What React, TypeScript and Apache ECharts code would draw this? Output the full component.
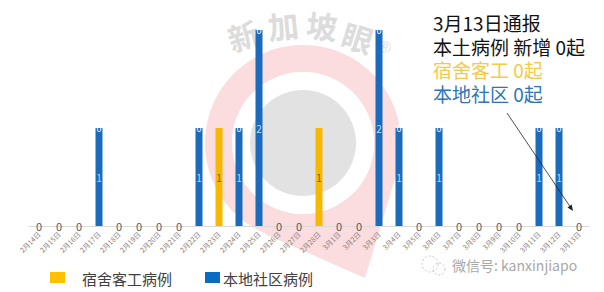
import React, { useEffect, useRef } from "react";
import * as echarts from "echarts";

const categories = [
  "2月14日", "2月15日", "2月16日", "2月17日", "2月18日", "2月19日", "2月20日",
  "2月21日", "2月22日", "2月23日", "2月24日", "2月25日", "2月26日", "2月27日",
  "2月28日", "3月1日", "3月2日", "3月3日", "3月4日", "3月5日", "3月6日",
  "3月7日", "3月8日", "3月9日", "3月10日", "3月11日", "3月12日", "3月13日",
];
const communityCases = [0, 0, 0, 1, 0, 0, 0, 0, 1, 0, 1, 2, 0, 0, 0, 0, 0, 2, 1, 0, 1, 0, 0, 0, 0, 1, 1, 0];
const dormitoryCases = [0, 0, 0, 0, 0, 0, 0, 0, 0, 1, 0, 0, 0, 0, 1, 0, 0, 0, 0, 0, 0, 0, 0, 0, 0, 0, 0, 0];
const seriesNames = ["宿舍客工病例", "本地社区病例"];
const noteLines = ["3月13日通报", "本土病例 新增 0起", "宿舍客工 0起", "本地社区 0起"];

const FONT = '"Noto Sans CJK SC", "Microsoft YaHei", sans-serif';
const BLUE = "#1a6bbc";
const YELLOW = "#F8B800";

export default function App() {
  const ref = useRef<HTMLDivElement>(null);
  useEffect(() => {
    if (!ref.current) return;
    const chart = echarts.init(ref.current, null, { renderer: "svg" });

    const yellowData = dormitoryCases.map((v, i) => {
      const onBlue = v === 0 && communityCases[i] > 0;
      return {
        value: v,
        label: v > 0
          ? { color: "#7a5a00", fontSize: 10 }
          : onBlue
          ? { color: "#ffffff", fontSize: 9 }
          : { color: "#595959", fontSize: 11 },
      };
    });

    const wmChars = [
      { t: "新", x: 243, y: 35, r: 0.3 },
      { t: "加", x: 283, y: 25, r: 0.1 },
      { t: "坡", x: 322, y: 25, r: -0.1 },
      { t: "眼", x: 358, y: 37, r: -0.3 },
    ];

    const option: any = {
      animation: false,
      textStyle: { fontFamily: FONT },
      grid: { left: 29, right: 15, top: 30, bottom: 66 },
      xAxis: {
        type: "category",
        data: categories,
        axisLine: { lineStyle: { color: "#d9d9d9" } },
        axisTick: { show: false },
        axisLabel: { interval: 0, rotate: 45, fontSize: 7, color: "#808080", margin: 7 },
      },
      yAxis: { type: "value", min: 0, max: 2, show: false, splitLine: { show: false } },
      series: [
        {
          name: seriesNames[1],
          type: "bar",
          stack: "total",
          barWidth: 7,
          itemStyle: { color: BLUE },
          label: {
            show: true,
            position: "inside",
            color: "#bfd9f2",
            fontSize: 10,
            formatter: (p: any) => (p.value > 0 ? String(p.value) : ""),
          },
          data: communityCases,
          z: 3,
        },
        {
          name: seriesNames[0],
          type: "bar",
          stack: "total",
          barWidth: 7,
          itemStyle: { color: YELLOW },
          label: { show: true, position: "inside", formatter: (p: any) => String(p.value) },
          data: yellowData,
          z: 3,
        },
      ],
      graphic: [
        { type: "polygon", z: 0, shape: { points: [[397, 172], [365, 278], [265, 234]] }, style: { fill: "#fbdcdf" } },
        { type: "ring", z: 0, shape: { cx: 303, cy: 143, r: 98, r0: 71 }, style: { fill: "#fbdcdf" } },
        { type: "circle", z: 0, shape: { cx: 303, cy: 143, r: 71 }, style: { fill: "#ffffff" } },
        { type: "circle", z: 0, shape: { cx: 303, cy: 143, r: 53 }, style: { fill: "#e2e2e2" } },
        ...wmChars.map((c) => ({
          type: "text",
          z: 0,
          x: c.x,
          y: c.y,
          rotation: c.r,
          style: { text: c.t, fontSize: 31, fontWeight: "bold", fill: "#dcdcdc", textAlign: "center", textVerticalAlign: "middle", fontFamily: FONT },
        })),
        { type: "text", z: 0, x: 385, y: 47, rotation: -0.4, style: { text: "®", fontSize: 16, fill: "#dcdcdc", textAlign: "center", textVerticalAlign: "middle" } },
        {
          type: "text",
          z: 10,
          x: 433,
          y: 11,
          style: {
            text: `{a|${noteLines[0]}}\n{a|${noteLines[1]}}\n{b|${noteLines[2]}}\n{c|${noteLines[3]}}`,
            fontFamily: FONT,
            textAlign: "left",
            textVerticalAlign: "top",
            rich: {
              a: { fontSize: 19, lineHeight: 23.5, fill: "#111111", fontFamily: FONT },
              b: { fontSize: 19, lineHeight: 23.5, fill: "#F7C948", fontFamily: FONT },
              c: { fontSize: 19, lineHeight: 23.5, fill: "#2E75B6", fontFamily: FONT },
            },
          },
        },
        { type: "line", z: 10, shape: { x1: 507, y1: 113, x2: 571, y2: 208 }, style: { stroke: "#222", lineWidth: 0.8 } },
        { type: "polygon", z: 10, shape: { points: [[573, 211], [567.5, 207.4], [571.7, 204.6]] }, style: { fill: "#222" } },
        // legend
        { type: "rect", z: 10, shape: { x: 50, y: 272, width: 15, height: 11 }, style: { fill: "#FFC000" } },
        { type: "text", z: 10, x: 82, y: 278, style: { text: seriesNames[0], fontSize: 15, fill: "#404040", fontFamily: FONT, textAlign: "left", textVerticalAlign: "middle" } },
        { type: "rect", z: 10, shape: { x: 205, y: 272, width: 15, height: 11 }, style: { fill: "#0a6cc0" } },
        { type: "text", z: 10, x: 223, y: 278, style: { text: seriesNames[1], fontSize: 15, fill: "#404040", fontFamily: FONT, textAlign: "left", textVerticalAlign: "middle" } },
        // wechat watermark
        { type: "circle", z: 10, shape: { cx: 430, cy: 264, r: 8 }, style: { fill: "none", stroke: "#c8c8c8", lineWidth: 1, lineDash: [2, 2] } },
        { type: "circle", z: 10, shape: { cx: 439, cy: 269, r: 6 }, style: { fill: "none", stroke: "#c8c8c8", lineWidth: 1, lineDash: [2, 2] } },
        {
          type: "text",
          z: 10,
          x: 452,
          y: 265,
          style: { text: "微信号: kanxinjiapo", fontSize: 14, fill: "#a8a8a8", fontFamily: FONT, textAlign: "left", textVerticalAlign: "middle" },
        },
      ],
    };
    chart.setOption(option);
    return () => chart.dispose();
  }, []);
  return <div ref={ref} style={{ position: "absolute", left: 0, top: 0, width: 604, height: 292, background: "#fff" }} />;
}
